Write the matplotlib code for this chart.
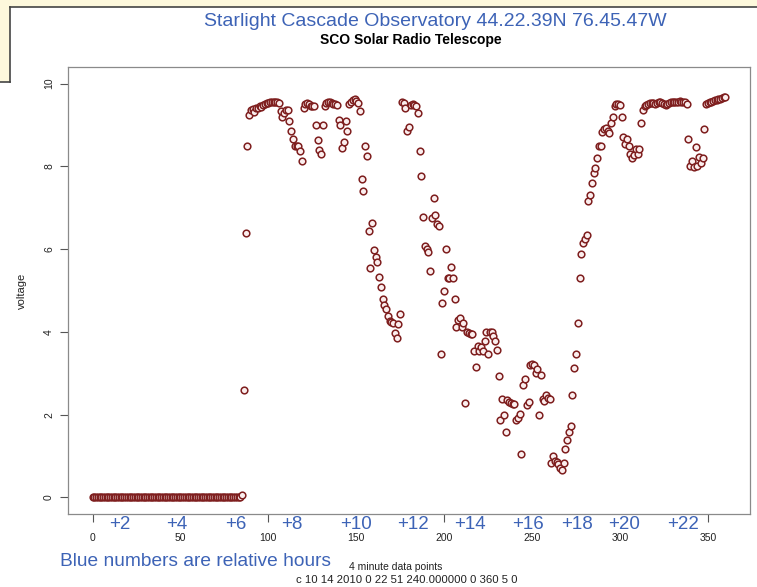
import numpy as np
import matplotlib
matplotlib.use("Agg")
import matplotlib.pyplot as plt
from matplotlib.patches import Rectangle
from matplotlib.lines import Line2D

# night part: the receiver sits at zero for the first 85 samples
night = [0.02] * 85

# samples 85..360 (4 minute data points)
day = [
	0.05, 2.6, 6.4, 8.5, 9.23, 9.35, 9.38, 9.32, 9.4, 9.42,
	9.45, 9.43, 9.48, 9.5, 9.52, 9.53, 9.55, 9.55, 9.56, 9.55,
	9.55, 9.54, 9.33, 9.18, 9.3, 9.35, 9.37, 9.1, 8.85, 8.67,
	8.5, 8.5, 8.48, 8.36, 8.12, 9.42, 9.5, 9.52, 9.5, 9.45,
	9.45, 9.45, 9.0, 8.63, 8.4, 8.3, 9.0, 9.45, 9.52, 9.55,
	9.55, 9.52, 9.5, 9.5, 9.48, 9.13, 9.0, 8.45, 8.58, 9.1,
	8.85, 9.5, 9.55, 9.6, 9.62, 9.58, 9.52, 9.33, 7.7, 7.4,
	8.5, 8.25, 6.43, 5.54, 6.63, 5.98, 5.8, 5.7, 5.32, 5.08,
	4.8, 4.66, 4.55, 4.38, 4.26, 4.24, 4.22, 3.97, 3.86, 4.2,
	4.43, 9.55, 9.52, 9.42, 8.85, 8.94, 9.47, 9.5, 9.48, 9.45,
	9.3, 8.38, 7.76, 6.77, 6.07, 6.0, 5.93, 5.47, 6.75, 7.23,
	6.82, 6.6, 6.56, 3.47, 4.7, 5.0, 6.0, 5.3, 5.3, 5.57,
	5.3, 4.8, 4.12, 4.28, 4.34, 4.12, 4.22, 2.27, 4.0, 3.98,
	3.96, 3.95, 3.54, 3.16, 3.66, 3.54, 3.64, 3.54, 3.78, 4.0,
	3.47, 4.0, 4.0, 3.9, 3.78, 3.57, 2.94, 1.86, 2.38, 1.98,
	1.59, 2.36, 2.3, 2.28, 2.26, 2.25, 1.88, 1.93, 2.02, 1.06,
	2.72, 2.87, 2.24, 2.31, 3.2, 3.22, 3.2, 3.0, 3.1, 2.0,
	2.97, 2.38, 2.34, 2.48, 2.4, 2.38, 0.84, 1.0, 0.89, 0.86,
	0.8, 0.72, 0.67, 0.84, 1.18, 1.4, 1.59, 1.73, 2.48, 3.13,
	3.47, 4.22, 5.3, 5.88, 6.14, 6.24, 6.34, 7.16, 7.3, 7.6,
	7.83, 7.95, 8.19, 8.5, 8.48, 8.84, 8.9, 8.93, 8.85, 8.8,
	9.05, 9.18, 9.45, 9.5, 9.5, 9.47, 9.2, 8.7, 8.53, 8.67,
	8.5, 8.31, 8.19, 8.27, 8.41, 8.31, 8.41, 9.04, 9.37, 9.45,
	9.48, 9.5, 9.52, 9.52, 9.53, 9.5, 9.52, 9.55, 9.55, 9.53,
	9.5, 9.48, 9.5, 9.52, 9.55, 9.55, 9.56, 9.55, 9.55, 9.57,
	9.56, 9.55, 9.56, 9.5, 8.67, 8.02, 8.12, 7.98, 8.46, 8.0,
	8.22, 8.07, 8.19, 8.9, 9.5, 9.52, 9.55, 9.55, 9.58, 9.6,
	9.6, 9.62, 9.63, 9.65, 9.67, 9.68,
]

volts = np.array(night + day)
samples = np.arange(len(volts))

# relative hour markers and where they sit along the sample axis
hour_labels = ["+2", "+4", "+6", "+8", "+10", "+12", "+14", "+16", "+18", "+20", "+22"]
hour_pos = [15.3, 47.7, 81.3, 113.6, 150, 182.4, 214.8, 247.7, 275.6, 302.3, 335.8]

xticks = [0, 50, 100, 150, 200, 250, 300, 350]
yticks = [0, 2, 4, 6, 8, 10]

BLUE = "#3d63b6"
W, H = 757, 587

plt.rcParams['font.family'] = ['Liberation Sans', 'DejaVu Sans']
fig = plt.figure(figsize=(W / 100, H / 100), dpi=100)

def px(x, y):
	# pixel (from top-left) -> figure fraction
	return x / W, 1 - y / H

# the yellow note box peeking out behind the chart
fig.patches.append(Rectangle((0, 1 - 82 / H), 10 / W, 82 / H, transform=fig.transFigure,
	facecolor="#fdf8dc", edgecolor="none", zorder=0))
fig.patches.append(Rectangle((0, 1 - 7 / H), 1, 7 / H, transform=fig.transFigure,
	facecolor="#fdf8dc", edgecolor="none", zorder=0))
for xs, ys in [((10, 10), (7, 82)), ((0, 10), (82, 82)), ((10, W), (7, 7))]:
	fig.lines.append(Line2D([x / W for x in xs], [1 - y / H for y in ys],
		transform=fig.transFigure, color="#444444", lw=1.2))

l, t, r, b = 68, 67, 750, 514
ax = fig.add_axes([l / W, 1 - b / H, (r - l) / W, (b - t) / H])
ax.plot(samples, volts, "o", ms=4.8, mfc="#fbeeee", mec="#7e1e1e", mew=1.1, zorder=3)
ax.set_xlim(-14, 374)
ax.set_ylim(-0.4, 10.4)
ax.set_yticks(yticks)
ax.set_yticklabels([str(v) for v in yticks], rotation=90, va="center")
ax.tick_params(axis="both", direction="out", length=6, width=0.8, color="#555555",
	labelsize=7.5, labelcolor="#222222")
ax.tick_params(axis="y", pad=4)

# x labels on every tick, but the blue hour numbers hide the marks near them,
# so only the uncovered tick marks are drawn (as minor ticks)
ax.xaxis.remove_overlapping_locs = False
ax.set_xticks(xticks)
ax.set_xticks([v for v in xticks if all(abs(v - p) > 6 for p in hour_pos)], minor=True)
ax.tick_params(axis="x", which="major", length=0, pad=14)
ax.tick_params(axis="x", which="minor", length=6, width=0.8, color="#555555")

for s in ax.spines.values():
	s.set_color("#8a8a8a")
	s.set_linewidth(0.9)
ax.set_ylabel("voltage", fontsize=8, labelpad=12, color="#222222")

for lab, pos in zip(hour_labels, hour_pos):
	ax.text(pos, -0.45, lab, color=BLUE, fontsize=13.5, ha="center", va="top",
		clip_on=False, zorder=5)

fig.text(*px(435, 22), "Starlight Cascade Observatory 44.22.39N 76.45.47W",
	color=BLUE, fontsize=14, ha="center", va="center")
fig.text(*px(411, 40), "SCO Solar Radio Telescope", fontsize=10, fontweight="bold",
	ha="center", va="center")
fig.text(*px(60, 561), "Blue numbers are relative hours", color=BLUE, fontsize=13.75,
	ha="left", va="center")
fig.text(*px(396, 567), "4 minute data points", fontsize=7.5, ha="center", va="center",
	color="#222222")
fig.text(*px(407, 580), "c 10 14 2010 0 22 51 240.000000 0 360 5 0", fontsize=8.2,
	ha="center", va="center", color="#222222")

fig.savefig("out.png", dpi=100)
